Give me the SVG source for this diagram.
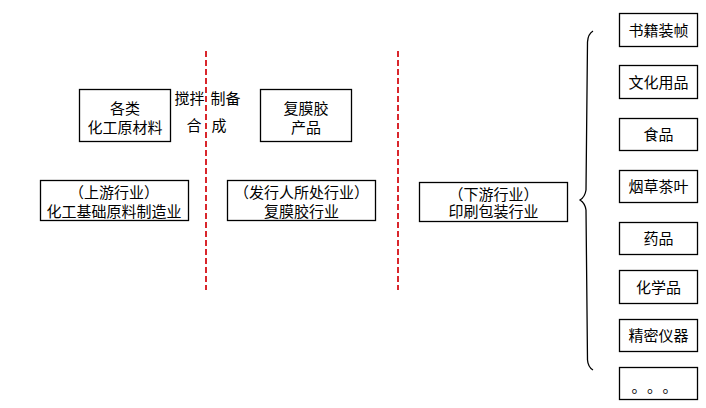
<svg xmlns="http://www.w3.org/2000/svg" width="706" height="408" viewBox="0 0 706 408">
<style>
.box{fill:#fff;stroke:#000;stroke-width:1.3}
text{font-family:"Liberation Sans","Noto Sans CJK SC","Noto Sans CJK JP",sans-serif;font-size:15px;fill:#000;text-anchor:middle}
.sep{stroke:#d9262c;stroke-width:2;stroke-dasharray:6 3;fill:none}
.brace{stroke:#000;stroke-width:1.3;fill:none}
</style>
<rect width="706" height="408" fill="#fff"/>
<g id="separators">
<line class="sep" x1="206" y1="51" x2="206" y2="290"/>
<line class="sep" x1="398" y1="51" x2="398" y2="290"/>
</g>
<g id="n-raw"><rect class="box" x="79.5" y="89.5" width="91" height="52"/><text x="125" y="113.5">各类</text><text x="125" y="132.5">化工原材料</text></g>
<g id="n-film"><rect class="box" x="260.5" y="89.5" width="91" height="52"/><text x="306" y="113.5">复膜胶</text><text x="306" y="132.5">产品</text></g>
<g id="n-process"><text x="189.5" y="103.5">搅拌</text><text x="225.5" y="103.5">制备</text><text x="194" y="131">合</text><text x="219" y="131">成</text></g>
<g id="n-upstream"><rect class="box" x="40.5" y="180.5" width="148" height="40"/><text x="114" y="198">（上游行业）</text><text x="114" y="217">化工基础原料制造业</text></g>
<g id="n-issuer"><rect class="box" x="227.5" y="180.5" width="148" height="40"/><text x="301.5" y="198">（发行人所处行业）</text><text x="301.5" y="217">复膜胶行业</text></g>
<g id="n-downstream"><rect class="box" x="419.5" y="182.5" width="148" height="39"/><text x="493.5" y="199.5">（下游行业）</text><text x="493.5" y="216.5">印刷包装行业</text></g>
<g id="connectors"><path class="brace" d="M593 31 Q588 34 587.5 42 L586 190 Q585 197 580 200 Q585 203 586 210 L587.5 360 Q588 367 593 370"/></g>
<g id="n-b1"><rect class="box" x="619.5" y="13.5" width="78" height="33"/><text x="658.5" y="35.5">书籍装帧</text></g>
<g id="n-b2"><rect class="box" x="619.5" y="65.5" width="78" height="33"/><text x="658.5" y="87.5">文化用品</text></g>
<g id="n-b3"><rect class="box" x="619.5" y="118.5" width="78" height="32"/><text x="658.5" y="140">食品</text></g>
<g id="n-b4"><rect class="box" x="619.5" y="170.5" width="78" height="32"/><text x="658.5" y="192">烟草茶叶</text></g>
<g id="n-b5"><rect class="box" x="619.5" y="222.5" width="78" height="32"/><text x="658.5" y="244">药品</text></g>
<g id="n-b6"><rect class="box" x="619.5" y="270.5" width="78" height="33"/><text x="658.5" y="292.5">化学品</text></g>
<g id="n-b7"><rect class="box" x="619.5" y="319.5" width="78" height="32"/><text x="658.5" y="341">精密仪器</text></g>
<g id="n-b8"><rect class="box" x="619.5" y="367.5" width="78" height="32"/><text x="639 654.5 670" y="392">。。。</text></g>
</svg>
